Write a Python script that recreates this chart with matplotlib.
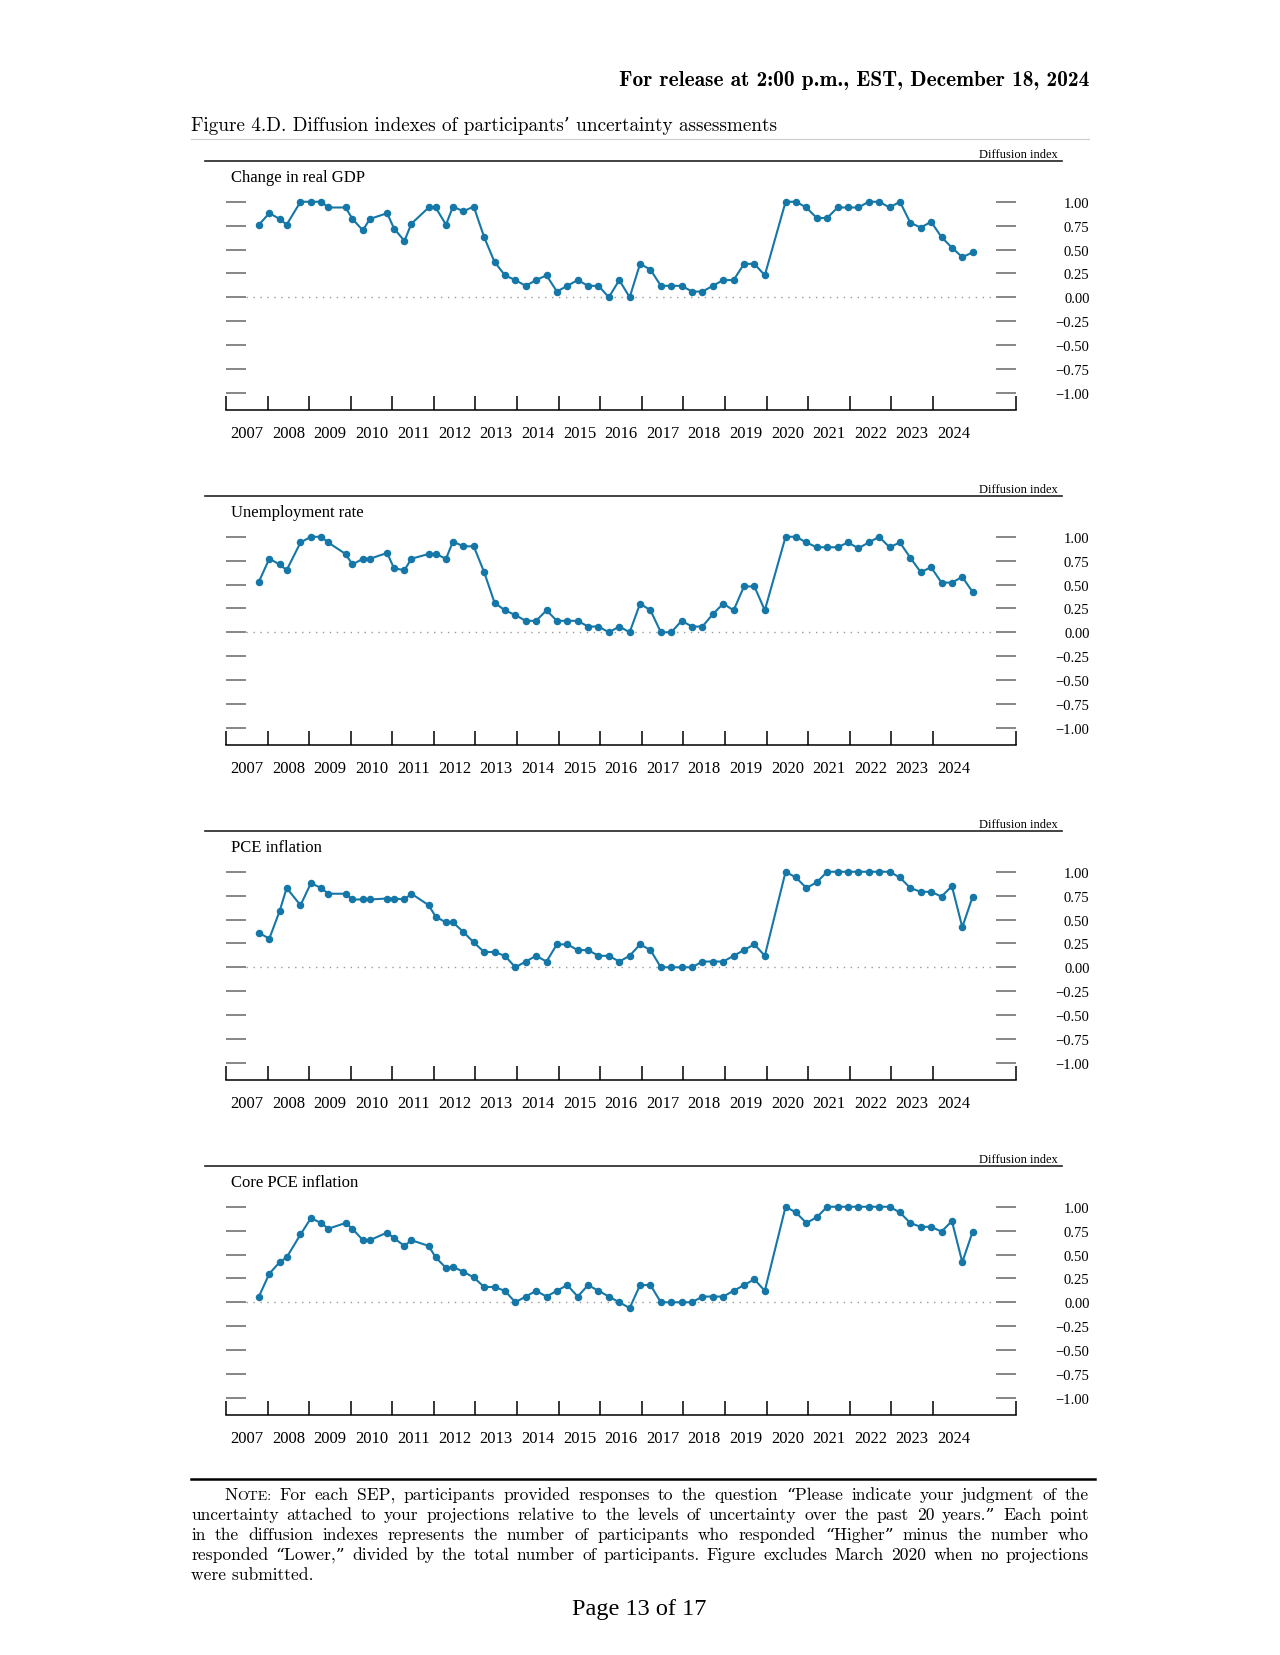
import numpy as np
import matplotlib
matplotlib.use("Agg")
import matplotlib.pyplot as plt
from matplotlib.lines import Line2D

# SEP dates (year, month), March 2020 excluded
sep_dates = [(2007, 10),
             (2008, 1), (2008, 4), (2008, 6), (2008, 10),
             (2009, 1), (2009, 4), (2009, 6), (2009, 11),
             (2010, 1), (2010, 4), (2010, 6), (2010, 11),
             (2011, 1), (2011, 4), (2011, 6), (2011, 11),
             (2012, 1), (2012, 4), (2012, 6), (2012, 9), (2012, 12)]
for yr in range(2013, 2020):
    sep_dates += [(yr, 3), (yr, 6), (yr, 9), (yr, 12)]
sep_dates += [(2020, 6), (2020, 9), (2020, 12)]
for yr in range(2021, 2025):
    sep_dates += [(yr, 3), (yr, 6), (yr, 9), (yr, 12)]

gdp = [0.76, 0.88, 0.82, 0.76, 1.00, 1.00, 1.00, 0.94, 0.94, 0.82, 0.70, 0.82,
       0.88, 0.72, 0.59, 0.77, 0.94, 0.94, 0.76, 0.95, 0.90, 0.95,
       0.63, 0.37, 0.23, 0.18, 0.12, 0.18, 0.23, 0.06, 0.12, 0.18, 0.12, 0.12,
       0.00, 0.18, 0.00, 0.35, 0.29, 0.12, 0.12, 0.12,
       0.06, 0.06, 0.12, 0.18, 0.18, 0.35, 0.35, 0.23,
       1.00, 1.00, 0.94,
       0.83, 0.83, 0.94, 0.94, 0.94, 1.00, 1.00, 0.94,
       1.00, 0.78, 0.73, 0.79, 0.63, 0.52, 0.42, 0.47]

unemp = [0.53, 0.77, 0.71, 0.65, 0.94, 1.00, 1.00, 0.94, 0.82, 0.71, 0.77, 0.77,
         0.83, 0.67, 0.65, 0.77, 0.82, 0.82, 0.77, 0.95, 0.90, 0.90,
         0.63, 0.31, 0.23, 0.18, 0.12, 0.12, 0.23, 0.12, 0.12, 0.12, 0.06, 0.06,
         0.00, 0.06, 0.00, 0.30, 0.23, 0.00, 0.00, 0.12,
         0.06, 0.06, 0.19, 0.30, 0.23, 0.48, 0.48, 0.23,
         1.00, 1.00, 0.94,
         0.89, 0.89, 0.89, 0.94, 0.88, 0.94, 1.00, 0.89,
         0.94, 0.78, 0.63, 0.68, 0.52, 0.52, 0.58, 0.42]

pce = [0.36, 0.30, 0.59, 0.83, 0.65, 0.88, 0.83, 0.77, 0.77, 0.71, 0.71, 0.71,
       0.72, 0.72, 0.71, 0.77, 0.65, 0.53, 0.47, 0.47, 0.37, 0.26,
       0.16, 0.16, 0.12, 0.00, 0.06, 0.12, 0.06, 0.24, 0.24, 0.18, 0.18, 0.12,
       0.12, 0.06, 0.12, 0.24, 0.18, 0.00, 0.00, 0.00,
       0.00, 0.06, 0.06, 0.06, 0.12, 0.18, 0.24, 0.12,
       1.00, 0.94, 0.83,
       0.89, 1.00, 1.00, 1.00, 1.00, 1.00, 1.00, 1.00,
       0.94, 0.83, 0.79, 0.79, 0.74, 0.85, 0.42, 0.74]

core_pce = [0.06, 0.30, 0.42, 0.47, 0.71, 0.88, 0.83, 0.77, 0.83, 0.77, 0.65, 0.65,
            0.73, 0.67, 0.59, 0.65, 0.59, 0.47, 0.36, 0.37, 0.32, 0.26,
            0.16, 0.16, 0.12, 0.00, 0.06, 0.12, 0.06, 0.12, 0.18, 0.06, 0.18, 0.12,
            0.06, 0.00, -0.06, 0.18, 0.18, 0.00, 0.00, 0.00,
            0.00, 0.06, 0.06, 0.06, 0.12, 0.18, 0.24, 0.12,
            1.00, 0.94, 0.83,
            0.89, 1.00, 1.00, 1.00, 1.00, 1.00, 1.00, 1.00,
            0.94, 0.83, 0.79, 0.79, 0.74, 0.85, 0.42, 0.74]

panel_titles = ["Change in real GDP", "Unemployment rate", "PCE inflation", "Core PCE inflation"]
panel_data = [gdp, unemp, pce, core_pce]
years = list(range(2007, 2025))
yticks = [1.00, 0.75, 0.50, 0.25, 0.00, -0.25, -0.50, -0.75, -1.00]

W, H = 1280, 1656
blue = "#1577a8"
serif = ["Liberation Serif", "DejaVu Serif"]
cm = ["cmr10", "DejaVu Serif"]
cmb = ["cmb10", "DejaVu Serif"]

x = np.array([y + (m - 0.5) / 12 for y, m in sep_dates])

fig = plt.figure(figsize=(W / 100, H / 100), dpi=100)


def fx(px):
    return px / W


def fy(py):
    return 1 - py / H


def hline(y, x0, x1, lw, color):
    fig.add_artist(Line2D([fx(x0), fx(x1)], [fy(y), fy(y)], lw=lw, color=color,
                          transform=fig.transFigure))


# page header
fig.text(fx(1089), fy(80), "For release at 2:00 p.m., EST, December 18, 2024",
         family=cmb, fontsize=15.4, ha="right", va="center")
fig.text(fx(191), fy(126), "Figure 4.D. Diffusion indexes of participants\u2019 uncertainty assessments",
         family=cm, fontsize=13.8, ha="left", va="center")
hline(140, 191, 1089, 0.8, "#cccccc")

for k, (title, vals) in enumerate(zip(panel_titles, panel_data)):
    off = 335 * k
    hline(162 + off, 205, 1062, 1.2, "#222222")
    fig.text(fx(1058), fy(158 + off), "Diffusion index", family=serif, fontsize=9,
             ha="right", va="baseline")
    fig.text(fx(231), fy(178 + off), title, family=serif, fontsize=12,
             ha="left", va="center")

    ax = fig.add_axes([fx(226), (1245 - off) / H, (1016 - 226) / W, 219.7 / H])
    ax.plot(x, vals, color=blue, lw=1.5, marker="o", ms=4.4, zorder=3)
    ax.axhline(0, xmin=0.025, xmax=0.975, color="#999999", lw=1,
               ls=(0, (1, 4)), zorder=1)

    ax.set_xlim(2007, 2026)
    ax.set_ylim(-1.18, 1.12)
    for s in ["top", "left", "right"]:
        ax.spines[s].set_visible(False)
    ax.spines["bottom"].set_linewidth(1.1)

    ax.set_xticks(years + [2026])
    ax.set_xticklabels([])
    ax.set_xticks([y + 0.5 for y in years], minor=True)
    ax.set_xticklabels([str(y) for y in years], minor=True, family=serif, fontsize=12)
    ax.tick_params(axis="x", which="major", direction="in", length=10, width=1.1, color="black")
    ax.tick_params(axis="x", which="minor", length=0, pad=10.5)

    ax.set_yticks(yticks)
    ax.set_yticklabels([f"{v:.2f}".replace("-", "\u2212") for v in yticks],
                       family=serif, fontsize=10.5)
    ax.tick_params(axis="y", direction="in", length=14.4, width=1.1, color="#666666",
                   left=True, right=True, labelleft=False, labelright=True, pad=53)
    for lab in ax.get_yticklabels():
        lab.set_ha("right")

# note with justified lines
hline(1480, 191, 1095, 1.8, "black")
renderer = fig.canvas.get_renderer()
note_fs = 12.6
note_lines = [
    [[("N", note_fs), ("OTE:", note_fs * 0.8)], "For", "each", "SEP,", "participants", "provided",
     "responses", "to", "the", "question", "\u201cPlease", "indicate", "your", "judgment", "of", "the"],
    ["uncertainty", "attached", "to", "your", "projections", "relative", "to", "the", "levels", "of",
     "uncertainty", "over", "the", "past", "20", "years.\u201d", "Each", "point"],
    ["in", "the", "diffusion", "indexes", "represents", "the", "number", "of", "participants", "who",
     "responded", "\u201cHigher\u201d", "minus", "the", "number", "who"],
    ["responded", "\u201cLower,\u201d", "divided", "by", "the", "total", "number", "of", "participants.",
     "Figure", "excludes", "March", "2020", "when", "no", "projections"],
]


def put_line(words, x0, x1, y):
    groups = []
    widths = []
    for w in words:
        parts = w if isinstance(w, list) else [(w, note_fs)]
        arts = []
        tw = 0
        for s, fs in parts:
            t = fig.text(0, fy(y), s, family=cm, fontsize=fs, va="baseline")
            wpx = t.get_window_extent(renderer).width
            arts.append((t, wpx))
            tw += wpx
        groups.append(arts)
        widths.append(tw)
    gap = (x1 - x0 - sum(widths)) / (len(words) - 1)
    pos = x0
    for arts, tw in zip(groups, widths):
        for t, wpx in arts:
            t.set_x(fx(pos))
            pos += wpx
        pos += gap


for i, words in enumerate(note_lines):
    put_line(words, 224 if i == 0 else 191, 1089, 1500 + 20 * i)
fig.text(fx(191), fy(1580), "were submitted.", family=cm, fontsize=note_fs, va="baseline")

fig.text(fx(639), fy(1610), "Page 13 of 17", family=serif, fontsize=17.5, ha="center", va="center")

fig.savefig("out.png", dpi=100)
